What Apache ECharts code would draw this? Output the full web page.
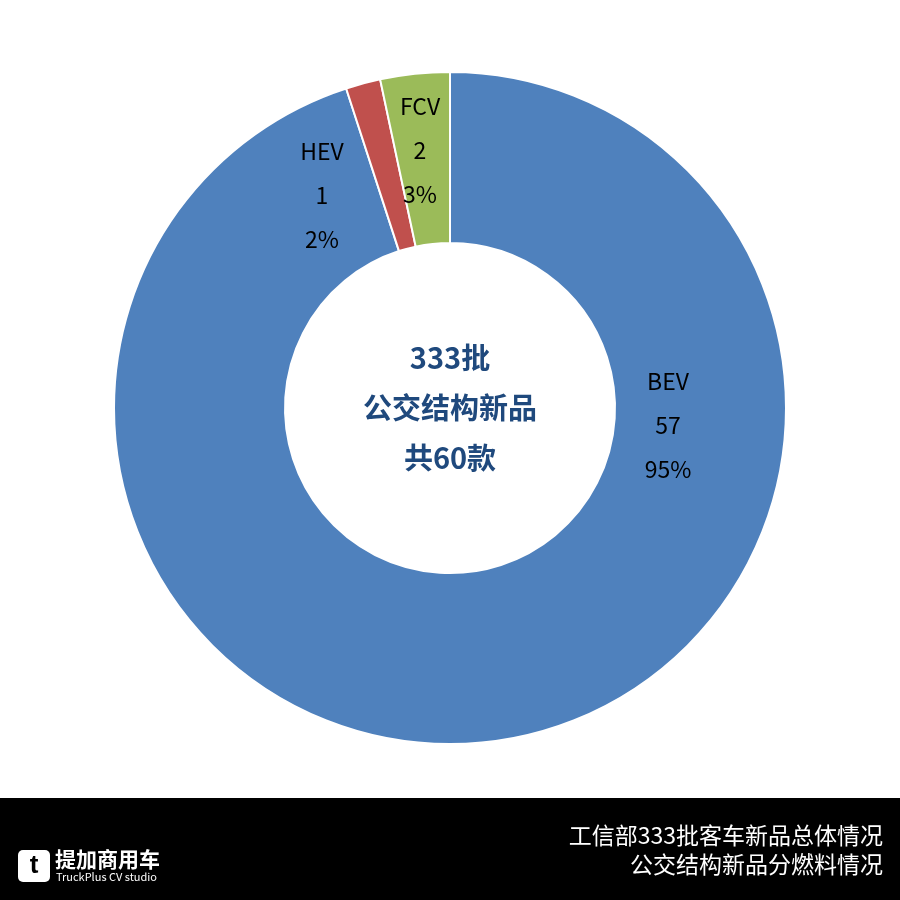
<!DOCTYPE html>
<html><head><meta charset="utf-8">
<script src="https://cdn.jsdelivr.net/npm/echarts@6/dist/echarts.min.js"></script>
<style>html,body{margin:0;padding:0;background:#fff}#c{width:900px;height:900px}</style>
</head><body><div id="c"></div>
<script>
var names = ['BEV', 'HEV', 'FCV'];
var counts = [57, 1, 2];
var percents = ['95%', '2%', '3%'];
var colors = ['#4F81BD', '#C0504D', '#9BBB59'];
var labelPos = [[668, 425], [322, 195], [420, 150]];
var centerText = ['333批', '公交结构新品', '共60款'];
var footerText = ['工信部333批客车新品总体情况', '公交结构新品分燃料情况'];

var chart = echarts.init(document.getElementById('c'));
var font = '"Microsoft YaHei","Noto Sans CJK SC",sans-serif';
chart.setOption({
    backgroundColor: '#fff',
    graphic: [
        {type: 'rect', shape: {x: 0, y: 798, width: 900, height: 102}, style: {fill: '#000'}},
        {type: 'text', style: {text: footerText[0], x: 883, y: 835, align: 'right', verticalAlign: 'middle', fill: '#fff', font: '23px ' + font}},
        {type: 'text', style: {text: footerText[1], x: 883, y: 864, align: 'right', verticalAlign: 'middle', fill: '#fff', font: '23px ' + font}},
        {type: 'rect', shape: {x: 18, y: 850, width: 32, height: 32, r: 5}, style: {fill: '#fff'}},
        {type: 'text', style: {text: 't', x: 34, y: 866, align: 'center', verticalAlign: 'middle', fill: '#000', font: 'bold 26px sans-serif'}},
        {type: 'text', style: {text: '提加商用车', x: 55, y: 859, verticalAlign: 'middle', fill: '#fff', font: 'bold 21px ' + font}},
        {type: 'text', style: {text: 'TruckPlus CV studio', x: 56, y: 877, verticalAlign: 'middle', fill: '#fff', font: '11px ' + font}},
        {type: 'text', style: {text: centerText.join('\n'), x: 450, y: 408, align: 'center', verticalAlign: 'middle', fill: '#1F497D', lineHeight: 50, font: 'bold 29px ' + font}}
    ],
    series: [{
        type: 'pie',
        center: [450, 408],
        radius: [165, 336],
        startAngle: 90,
        clockwise: true,
        animation: false,
        itemStyle: {borderColor: '#fff', borderWidth: 2},
        label: {
            show: true,
            position: 'inside',
            color: '#000',
            fontSize: 23,
            lineHeight: 44,
            fontFamily: font,
            formatter: function (p) { return p.name + '\n' + counts[p.dataIndex] + '\n' + percents[p.dataIndex]; }
        },
        labelLayout: function (p) {
            return {x: labelPos[p.dataIndex][0], y: labelPos[p.dataIndex][1], align: 'center', verticalAlign: 'middle'};
        },
        data: names.map(function (n, i) {
            return {name: n, value: counts[i], itemStyle: {color: colors[i]}};
        })
    }]
});
</script></body></html>
